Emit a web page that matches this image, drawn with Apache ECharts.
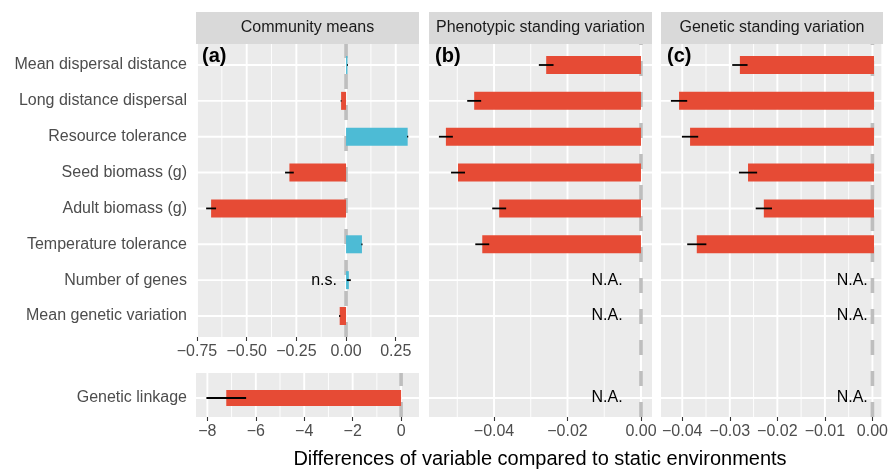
<!DOCTYPE html>
<html><head><meta charset="utf-8">
<script src="https://cdn.jsdelivr.net/npm/echarts@6/dist/echarts.min.js"></script>
<style>html,body{margin:0;padding:0;background:#fff}#c{width:891px;height:470px}</style>
</head><body><div id="c"></div>
<script>
// ---------- data ----------
const categories = ['Mean dispersal distance','Long distance dispersal','Resource tolerance','Seed biomass (g)','Adult biomass (g)','Temperature tolerance','Number of genes','Mean genetic variation'];
const linkageCategory = ['Genetic linkage'];
const communityMeans    = [0.007, -0.025, 0.31, -0.285, -0.679, 0.08, 0.014, -0.032];
const communityMeansErr = [0.002, 0.002, 0.003, 0.022, 0.025, 0.003, 0.01, 0.003];
const communityLinkage    = [-7.22];
const communityLinkageErr = [0.82];
const phenoSV    = [-0.0258, -0.0454, -0.0531, -0.0498, -0.0386, -0.0432, null, null];
const phenoSVErr = [0.002, 0.0019, 0.0019, 0.0019, 0.0019, 0.0019, null, null];
const phenoLinkage = [null];
const phenoLinkageErr = [null];
const genoSV    = [-0.0280, -0.0407, -0.0384, -0.0263, -0.0230, -0.0370, null, null];
const genoSVErr = [0.0016, 0.0017, 0.0017, 0.0019, 0.0017, 0.0020, null, null];
const genoLinkage = [null];
const genoLinkageErr = [null];
const communityNotes = [null, null, null, null, null, null, 'n.s.', null];
const ticksA = [-0.75, -0.5, -0.25, 0, 0.25];
const ticksALink = [-8, -6, -4, -2, 0];
const ticksB = [-0.04, -0.02, 0];
const ticksC = [-0.04, -0.03, -0.02, -0.01, 0];
const panelTitles = ['Community means', 'Phenotypic standing variation', 'Genetic standing variation'];
const panelTags = ['(a)', '(b)', '(c)'];
const xTitle = 'Differences of variable compared to static environments';

// ---------- styling ----------
const FONT = '"Liberation Sans", Arial, Helvetica, sans-serif';
const RED = '#E64B35', BLUE = '#4DBBD5';
const grid = [], xAxis = [], yAxis = [], series = [];
const fmt = dec => v => (v < 0 ? '\u2212' : '') + Math.abs(v).toFixed(dec);

function minorOf(ticks, min, max) {
  const step = ticks[1] - ticks[0];
  const out = [];
  for (let i = -1; i < ticks.length; i++) {
    const m = ticks[0] + step * (i + 0.5);
    if (m > min && m < max) out.push(+m.toFixed(6));
  }
  return out;
}

function addBg(p) {
  const gi = grid.length;
  grid.push({left: p.left, top: p.top, width: p.width, height: p.height, show: true, backgroundColor: '#EBEBEB', borderWidth: 0, containLabel: false});
  xAxis.push({gridIndex: gi, type: 'value', min: p.min, max: p.max,
    axisLine: {show: false},
    axisTick: {show: true, length: 4, customValues: p.ticks, lineStyle: {color: '#333333', width: 1.1}},
    axisLabel: {show: true, customValues: p.ticks, formatter: fmt(p.dec), color: '#4D4D4D', fontSize: 16, fontFamily: FONT, margin: 7},
    splitLine: {show: false}});
  yAxis.push({gridIndex: gi, type: 'value', min: 0, max: 1, show: false});
  const ai = xAxis.length - 1;
  const lines = p.ticks.filter(v => v >= p.min && v <= p.max).map(v => [v, 0, 1])
    .concat(minorOf(p.ticks, p.min, p.max).map(v => [v, 0, 0]));
  series.push({type: 'custom', xAxisIndex: ai, yAxisIndex: ai, z: 1, silent: true, clip: false,
    encode: {x: 0, y: 1}, data: lines,
    renderItem: (params, api) => {
      const a = api.coord([api.value(0), 0]), b = api.coord([api.value(0), 1]);
      return {type: 'line', shape: {x1: a[0], y1: a[1], x2: b[0], y2: b[1]},
        style: {stroke: '#FFFFFF', lineWidth: api.value(2) ? 1.9 : 0.9}};
    }});
  series.push({type: 'custom', xAxisIndex: ai, yAxisIndex: ai, z: 2, silent: true, clip: false,
    encode: {x: 0, y: 1}, data: [[0, 0]],
    renderItem: (params, api) => {
      const a = api.coord([0, 0]), b = api.coord([0, 1]);
      return {type: 'line', shape: {x1: a[0], y1: a[1], x2: b[0], y2: b[1]},
        style: {stroke: '#BEBEBE', lineWidth: 3.6, lineDash: [15, 16], lineDashOffset: p.dashOffset || 0}};
    }});
}

function addData(p) {
  const gi = grid.length;
  grid.push({left: p.left, top: p.rowTop, width: p.width, height: p.rowHeight, show: false, containLabel: false});
  xAxis.push({gridIndex: gi, type: 'value', min: p.min, max: p.max, show: false});
  yAxis.push({gridIndex: gi, type: 'category', data: p.cats, inverse: true, boundaryGap: p.boundaryGap,
    axisLine: {show: false},
    axisTick: {show: p.showY, length: 4, interval: 0, alignWithLabel: true, lineStyle: {color: '#333333', width: 1.1}},
    axisLabel: {show: p.showY, interval: 0, margin: 9, color: '#4D4D4D', fontSize: 16, fontFamily: FONT},
    splitLine: {show: false}});
  const ai = xAxis.length - 1;
  // horizontal grid lines at categories
  series.push({type: 'custom', xAxisIndex: ai, yAxisIndex: ai, z: 1, silent: true, clip: false,
    encode: {x: 0, y: 1}, data: p.cats.map((c, i) => [p.min, i]),
    renderItem: (params, api) => {
      const r = api.value(1);
      const a = api.coord([p.min, r]), b = api.coord([p.max, r]);
      return {type: 'line', shape: {x1: a[0], y1: a[1], x2: b[0], y2: b[1]},
        style: {stroke: '#FFFFFF', lineWidth: 1.9}};
    }});
  // bars
  series.push({type: 'bar', xAxisIndex: ai, yAxisIndex: ai, z: 3, barWidth: p.barWidth, silent: true,
    data: p.values.map(v => v == null ? null : {value: v, itemStyle: {color: v >= 0 ? BLUE : RED}})});
  // error bars
  const eb = [];
  p.values.forEach((v, i) => { if (v != null && p.errs[i] != null) eb.push([v - p.errs[i], v + p.errs[i], i]); });
  series.push({type: 'custom', xAxisIndex: ai, yAxisIndex: ai, z: 4, silent: true, clip: false,
    encode: {x: [0, 1], y: 2}, data: eb,
    renderItem: (params, api) => {
      const a = api.coord([api.value(0), api.value(2)]), b = api.coord([api.value(1), api.value(2)]);
      return {type: 'line', shape: {x1: a[0], y1: a[1], x2: b[0], y2: b[1]},
        style: {stroke: '#000000', lineWidth: 1.8}};
    }});
  // text notes
  const notes = [];
  p.values.forEach((v, i) => {
    const t = p.notes ? p.notes[i] : (v == null ? 'N.A.' : null);
    if (t) notes.push([p.noteX, i, t]);
  });
  if (notes.length) series.push({type: 'custom', xAxisIndex: ai, yAxisIndex: ai, z: 5, silent: true, clip: false,
    encode: {x: 0, y: 1}, data: notes,
    renderItem: (params, api) => {
      const a = api.coord([api.value(0), api.value(1)]);
      return {type: 'text', x: a[0], y: a[1],
        style: {text: notes[params.dataIndex][2], fill: '#000000', font: '16px ' + FONT, align: 'right', verticalAlign: 'middle'}};
    }});
}

// panel (a) upper
addBg({left: 196, top: 44, width: 223, height: 293, min: -0.755, max: 0.367, ticks: ticksA, dec: 2});
addData({left: 196, width: 223, rowTop: 65, rowHeight: 251, min: -0.755, max: 0.367, cats: categories, boundaryGap: false,
  showY: true, values: communityMeans, errs: communityMeansErr, notes: communityNotes, noteX: -0.046, barWidth: 18});
// panel (a) lower
addBg({left: 196, top: 373, width: 223, height: 44, min: -8.47, max: 0.74, ticks: ticksALink, dec: 0});
addData({left: 196, width: 223, rowTop: 380, rowHeight: 36, min: -8.47, max: 0.74, cats: linkageCategory, boundaryGap: true,
  showY: true, values: communityLinkage, errs: communityLinkageErr, notes: [null], noteX: 0, barWidth: 16});
// panel (b)
addBg({left: 429, top: 44, width: 223, height: 373, min: -0.0577, max: 0.003, ticks: ticksB, dec: 2});
addData({left: 429, width: 223, rowTop: 65, rowHeight: 251, min: -0.0577, max: 0.003, cats: categories, boundaryGap: false,
  showY: false, values: phenoSV, errs: phenoSVErr, noteX: -0.005, barWidth: 18});
addData({left: 429, width: 223, rowTop: 380, rowHeight: 36, min: -0.0577, max: 0.003, cats: linkageCategory, boundaryGap: true,
  showY: false, values: phenoLinkage, errs: phenoLinkageErr, noteX: -0.005, barWidth: 16});
// panel (c)
addBg({left: 661, top: 44, width: 222, height: 373, min: -0.04447, max: 0.00188, ticks: ticksC, dec: 2});
addData({left: 661, width: 222, rowTop: 65, rowHeight: 251, min: -0.04447, max: 0.00188, cats: categories, boundaryGap: false,
  showY: false, values: genoSV, errs: genoSVErr, noteX: -0.0013, barWidth: 18});
addData({left: 661, width: 222, rowTop: 380, rowHeight: 36, min: -0.04447, max: 0.00188, cats: linkageCategory, boundaryGap: true,
  showY: false, values: genoLinkage, errs: genoLinkageErr, noteX: -0.0013, barWidth: 16});

// strips, tags, title
const strips = [[196, 223], [429, 223], [661, 222]];
const graphic = [];
strips.forEach((s, i) => {
  graphic.push({type: 'rect', left: s[0], top: 12, shape: {width: s[1], height: 32}, style: {fill: '#D9D9D9'}, z: 10});
  graphic.push({type: 'text', x: s[0] + s[1] / 2, y: 28, style: {text: panelTitles[i], fill: '#1A1A1A', font: '16px ' + FONT, align: 'center', verticalAlign: 'middle'}, z: 11});
  graphic.push({type: 'text', x: s[0] + 6, y: 56, style: {text: panelTags[i], fill: '#000000', font: 'bold 20px ' + FONT, align: 'left', verticalAlign: 'middle'}, z: 11});
});
graphic.push({type: 'text', x: 540, y: 459, style: {text: xTitle, fill: '#000000', font: '20px ' + FONT, align: 'center', verticalAlign: 'middle'}, z: 11});

const chart = echarts.init(document.getElementById('c'), null, {renderer: 'canvas'});
chart.setOption({animation: false, backgroundColor: '#FFFFFF', grid, xAxis, yAxis, series, graphic});
</script></body></html>
